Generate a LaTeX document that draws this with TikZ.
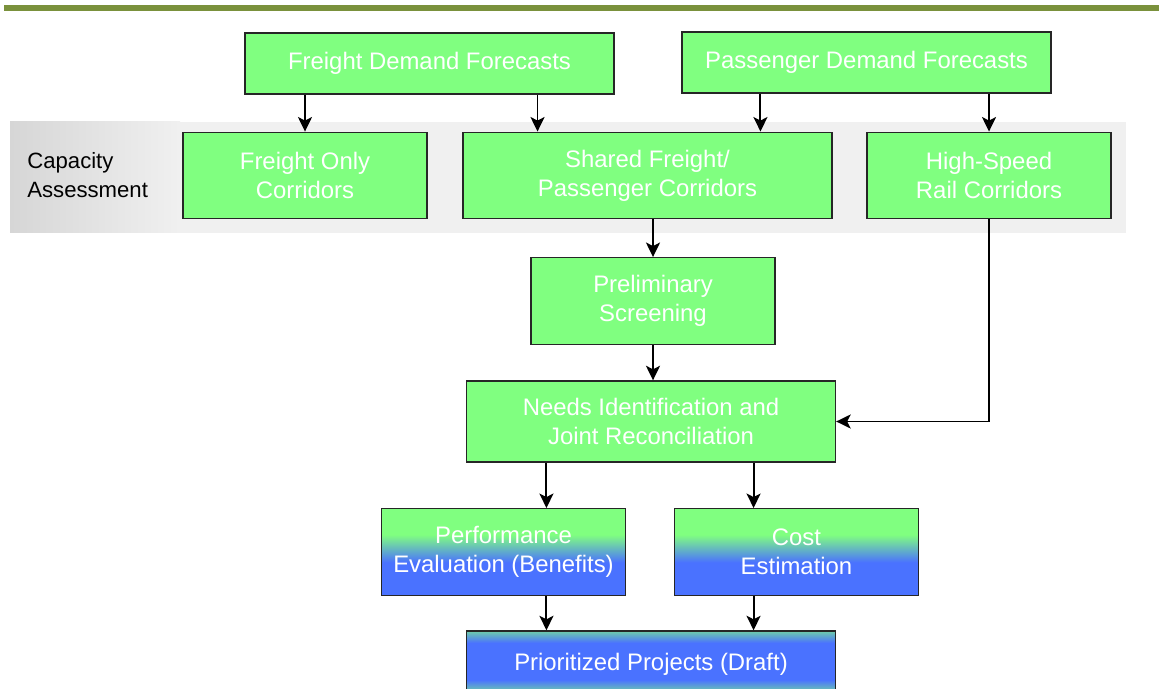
\documentclass[tikz,border=0pt]{standalone}
\usepackage{fontspec}
\setmainfont{Liberation Sans}
\usetikzlibrary{arrows.meta,calc}
\definecolor{boxgreen}{RGB}{128,255,128}
\definecolor{boxblue}{RGB}{74,114,255}
\definecolor{boxteal}{RGB}{110,205,170}
\definecolor{topolive}{RGB}{122,145,60}
\definecolor{bandgray}{RGB}{240,240,240}
\definecolor{banddark}{RGB}{214,214,214}
\pgfdeclareverticalshading{greenblue}{100bp}{color(0bp)=(boxblue); color(44bp)=(boxblue); color(60bp)=(boxgreen); color(100bp)=(boxgreen)}
\pgfdeclareverticalshading{tealblue}{100bp}{color(0bp)=(boxteal); color(29bp)=(boxteal); color(38bp)=(boxblue); color(66bp)=(boxblue); color(75bp)=(boxteal); color(100bp)=(boxteal)}
\tikzset{
  box/.style={draw=black!85, line width=0.8pt, fill=boxgreen, text=white, align=center,
    inner sep=0pt, font=\fontsize{13.6}{16.5}\selectfont},
  widebox/.style={box, minimum width=7.38cm},
  smallbox/.style={box, minimum width=4.88cm, minimum height=1.73cm},
  arr/.style={line width=1.1pt, -{Stealth[length=0.29cm, width=0.28cm, inset=0.07cm]}}
}

\begin{document}
\begin{tikzpicture}[x=0.02cm, y=-0.02cm]
  \useasboundingbox (0,0) rectangle (1159,689);
  \fill[topolive] (4,5) rectangle (1159,11);
  \shade[left color=banddark, right color=bandgray] (10,122) rectangle (180,233);
  \fill[bandgray] (179,122) rectangle (1126,233);
  \node[anchor=west, align=left, inner sep=0pt, font=\fontsize{12.6}{16.5}\selectfont] (cap) at (27,175) {Capacity\\Assessment};

  \node[widebox, minimum height=1.22cm] (fdf) at (429.5,63.5) {Freight Demand Forecasts};
  \node[widebox, minimum height=1.22cm] (pdf) at (866.5,62.5) {Passenger Demand Forecasts};
  \node[smallbox] (foc) at (305,175.5) {Freight Only\\Corridors};
  \node[widebox, minimum height=1.73cm] (shared) at (647.5,175.5) {Shared Freight/\\Passenger Corridors};
  \node[smallbox] (hsr) at (989,175.5) {High-Speed\\Rail Corridors};
  \node[smallbox] (prelim) at (653,301) {Preliminary\\Screening};
  \node[widebox, minimum height=1.62cm] (needs) at (651,421.5) {Needs Identification and\\Joint Reconciliation};
  \node[smallbox, shading=greenblue] (perf) at (503.5,552) {Performance\\Evaluation (Benefits)};
  \node[smallbox, shading=greenblue] (cost) at (796.5,552) {Cost\\Estimation};
  \node[widebox, minimum height=1.32cm, shading=tealblue] (prior) at (651,664) {\raisebox{2pt}{Prioritized Projects (Draft)}};

  \coordinate (sa) at ($(shared.north west)!0.203!(shared.north east)$);
  \coordinate (sb) at ($(shared.north west)!0.805!(shared.north east)$);
  \coordinate (pa) at ($(perf.north west)!0.675!(perf.north east)$);
  \coordinate (ca) at ($(cost.north west)!0.325!(cost.north east)$);

  \draw[arr] (fdf.south -| foc.north) -- (foc.north);
  \draw[arr] (fdf.south -| sa) -- (sa);
  \draw[arr] (pdf.south -| sb) -- (sb);
  \draw[arr] (pdf.south -| hsr.north) -- (hsr.north);
  \draw[arr] (shared.south -| prelim.north) -- (prelim.north);
  \draw[arr] (prelim.south) -- (needs.north -| prelim.south);
  \draw[arr] (hsr.south) |- (needs.east);
  \draw[arr] (needs.south -| pa) -- (pa);
  \draw[arr] (needs.south -| ca) -- (ca);
  \draw[arr] (perf.south -| pa) -- (prior.north -| pa);
  \draw[arr] (cost.south -| ca) -- (prior.north -| ca);
\end{tikzpicture}
\end{document}
